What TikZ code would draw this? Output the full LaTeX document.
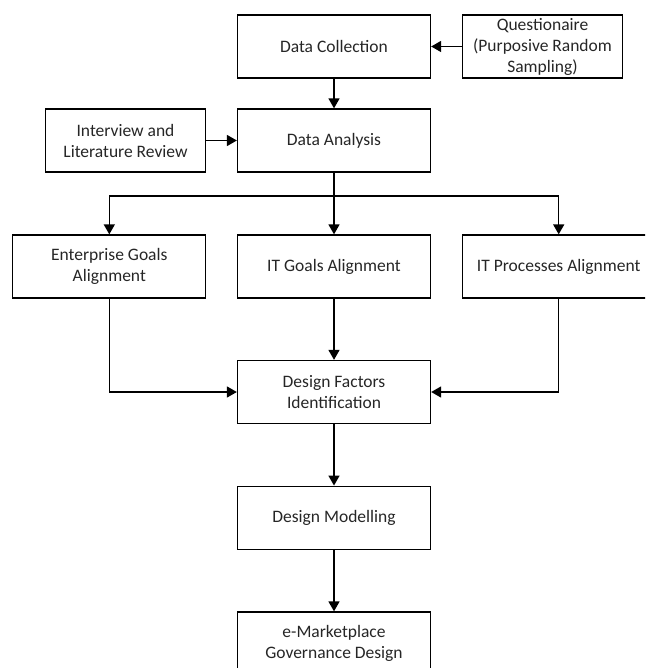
\documentclass[tikz,border=0pt]{standalone}
\usepackage{fontspec}
\setmainfont{Carlito}
\usetikzlibrary{arrows.meta}
\begin{document}
\begin{tikzpicture}[x=1pt,y=-1pt,
  box/.style={draw=black,line width=1.3pt,minimum width=193pt,minimum height=63pt,inner sep=0pt,align=center,
    font=\fontsize{17.5}{21}\selectfont,text=black!85},
  smallbox/.style={box,minimum width=160pt},
  arr/.style={line width=1.5pt,-{Triangle[length=10pt,width=11pt]}},
  ln/.style={line width=1.5pt}]
\useasboundingbox (0,0) rectangle (645,668);
\clip (0,0) rectangle (645,668);
\node[box] (dc) at (334,46.5) {Data Collection};
\node[smallbox] (q) at (542.5,46.5) {Questionaire\\(Purposive Random\\Sampling)};
\node[smallbox] (il) at (125.5,140.5) {Interview and\\Literature Review};
\node[box] (da) at (334,140.5) {Data Analysis};
\node[box] (eg) at (109.3,266.5) {Enterprise Goals\\Alignment};
\node[box] (itg) at (334,266.5) {IT Goals Alignment};
\node[box] (itp) at (558.7,266.5) {IT Processes Alignment};
\node[box] (df) at (334,392) {Design Factors\\Identification};
\node[box] (dm) at (334,517.7) {Design Modelling};
\node[box] (em) at (334,643.5) {e-Marketplace\\Governance Design};
\coordinate (br) at (334,196);
\draw[arr] (q.west) -- (dc.east);
\draw[arr] (dc.south) -- (da.north);
\draw[arr] (il.east) -- (da.west);
\draw[arr] (da.south) -- (itg.north);
\draw[arr] (br) -| (eg.north);
\draw[arr] (br) -| (itp.north);
\draw[arr] (eg.south) |- (df.west);
\draw[arr] (itg.south) -- (df.north);
\draw[arr] (itp.south) |- (df.east);
\draw[arr] (df.south) -- (dm.north);
\draw[arr] (dm.south) -- (em.north);
\end{tikzpicture}
\end{document}
